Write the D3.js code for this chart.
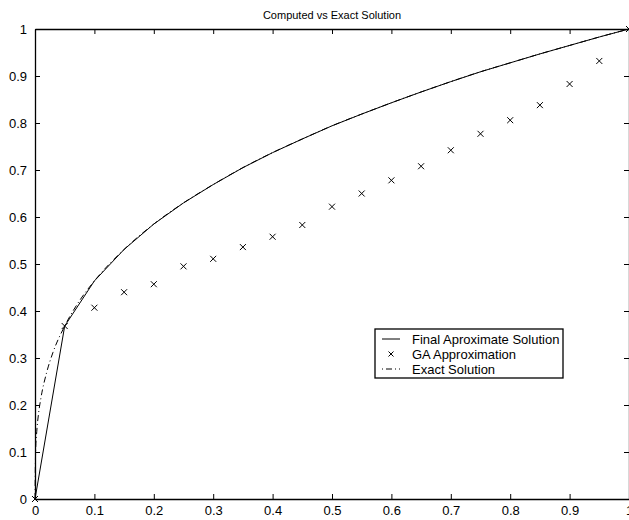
<!DOCTYPE html>
<html>
<head>
<meta charset="utf-8">
<script src="https://cdn.jsdelivr.net/npm/d3@7"></script>
<style>
  body { margin: 0; background: #fff; }
  text { font-family: "Liberation Sans", Arial, sans-serif; }
</style>
</head>
<body>
<div id="chart"></div>
<script>
// data
var gaX = [0, 0.05, 0.1, 0.15, 0.2, 0.25, 0.3, 0.35, 0.4, 0.45, 0.5, 0.55, 0.6, 0.65, 0.7, 0.75, 0.8, 0.85, 0.9, 0.95, 1];
var gaY = [0, 0.368, 0.407, 0.44, 0.457, 0.495, 0.511, 0.536, 0.558, 0.583, 0.622, 0.65, 0.678, 0.708, 0.742, 0.777, 0.806, 0.838, 0.883, 0.932, 1];

var finalX = [0, 0.05, 0.1, 0.15, 0.2, 0.25, 0.3, 0.35, 0.4, 0.45, 0.5, 0.55, 0.6, 0.65, 0.7, 0.75, 0.8, 0.85, 0.9, 0.95, 1];
var finalY = [0, 0.368, 0.464, 0.531, 0.585, 0.63, 0.669, 0.705, 0.737, 0.766, 0.794, 0.819, 0.843, 0.866, 0.888, 0.909, 0.928, 0.947, 0.965, 0.983, 1];

var exactX = [0, 0.001, 0.003, 0.006, 0.01, 0.02, 0.03, 0.05, 0.075, 0.1, 0.15, 0.2, 0.25, 0.3, 0.35, 0.4, 0.45, 0.5, 0.55, 0.6, 0.65, 0.7, 0.75, 0.8, 0.85, 0.9, 0.95, 1];
var exactY = [0, 0.1, 0.144, 0.182, 0.215, 0.271, 0.311, 0.368, 0.422, 0.464, 0.531, 0.585, 0.63, 0.669, 0.705, 0.737, 0.766, 0.794, 0.819, 0.843, 0.866, 0.888, 0.909, 0.928, 0.947, 0.965, 0.983, 1];

var xTicks = [0, 0.1, 0.2, 0.3, 0.4, 0.5, 0.6, 0.7, 0.8, 0.9, 1];
var yTicks = [0, 0.1, 0.2, 0.3, 0.4, 0.5, 0.6, 0.7, 0.8, 0.9, 1];

var legendLabels = ["Final Aproximate Solution", "GA Approximation", "Exact Solution"];

// dimensions
var W = 629, H = 520;
var margin = {top: 29, right: 0, bottom: 21, left: 35},
    width = W - margin.left - margin.right,
    height = H - margin.top - margin.bottom;

var svg = d3.select("#chart")
  .append("svg")
    .attr("width", W)
    .attr("height", H)
  .append("g")
    .attr("transform", "translate(" + margin.left + "," + margin.top + ")");

var x = d3.scaleLinear().domain([0, 1]).range([0, width]);
var y = d3.scaleLinear().domain([0, 1]).range([height, 0]);

var fmt = function(d) { return d === 0 || d === 1 ? d3.format("d")(d) : d3.format(".1f")(d); };

// axes with inward ticks on all four sides
svg.append("g")
  .attr("transform", "translate(0," + height + ")")
  .call(d3.axisBottom(x).tickValues(xTicks).tickFormat(fmt).tickSizeInner(-5).tickSizeOuter(0).tickPadding(7));
svg.append("g")
  .call(d3.axisTop(x).tickValues(xTicks).tickFormat("").tickSizeInner(-5).tickSizeOuter(0));
svg.append("g")
  .call(d3.axisLeft(y).tickValues(yTicks).tickFormat(fmt).tickSizeInner(-5).tickSizeOuter(0).tickPadding(8));
svg.append("g")
  .attr("transform", "translate(" + width + ",0)")
  .call(d3.axisRight(y).tickValues(yTicks).tickFormat("").tickSizeInner(-5).tickSizeOuter(0));

svg.selectAll(".domain").attr("stroke", "#000").attr("stroke-width", 1.3);
svg.selectAll(".tick line").attr("stroke", "#000");
svg.selectAll(".tick text").attr("font-size", 13).attr("fill", "#000")
  .attr("font-family", "Liberation Sans, Arial, sans-serif");

// lines
var line = d3.line()
  .x(function(d) { return x(d[0]); })
  .y(function(d) { return y(d[1]); });

svg.append("path")
  .datum(d3.zip(finalX, finalY))
  .attr("d", line)
  .attr("fill", "none")
  .attr("stroke", "#000")
  .attr("stroke-width", 1);

svg.append("path")
  .datum(d3.zip(exactX, exactY))
  .attr("d", line.curve(d3.curveMonotoneX))
  .attr("fill", "none")
  .attr("stroke", "#000")
  .attr("stroke-width", 1)
  .attr("stroke-dasharray", "6,3,1,3");

// x markers
function cross(g, cx, cy, s) {
  g.append("path")
    .attr("d", "M" + (cx - s) + "," + (cy - s) + "L" + (cx + s) + "," + (cy + s) +
               "M" + (cx - s) + "," + (cy + s) + "L" + (cx + s) + "," + (cy - s))
    .attr("stroke", "#000")
    .attr("stroke-width", 1)
    .attr("fill", "none");
}
var marks = svg.append("g");
d3.zip(gaX, gaY).forEach(function(d) { cross(marks, x(d[0]), y(d[1]), 3); });

// title
svg.append("text")
  .attr("x", width / 2)
  .attr("y", -10)
  .attr("text-anchor", "middle")
  .attr("font-size", 11)
  .text("Computed vs Exact Solution");

// legend
var lg = d3.select("svg").append("g").attr("transform", "translate(375,329)");
lg.append("rect")
  .attr("width", 188).attr("height", 49)
  .attr("fill", "#fff").attr("stroke", "#000").attr("stroke-width", 1.3);
legendLabels.forEach(function(label, i) {
  var ly = 10 + i * 15;
  if (i === 0) {
    lg.append("line").attr("x1", 7).attr("x2", 25).attr("y1", ly).attr("y2", ly)
      .attr("stroke", "#000");
  } else if (i === 1) {
    cross(lg, 16, ly, 2.5);
  } else {
    lg.append("line").attr("x1", 7).attr("x2", 25).attr("y1", ly).attr("y2", ly)
      .attr("stroke", "#000").attr("stroke-dasharray", "1,3,6,3");
  }
  lg.append("text").attr("x", 37).attr("y", ly + 5).attr("font-size", 13).text(label);
});
</script>
</body>
</html>
